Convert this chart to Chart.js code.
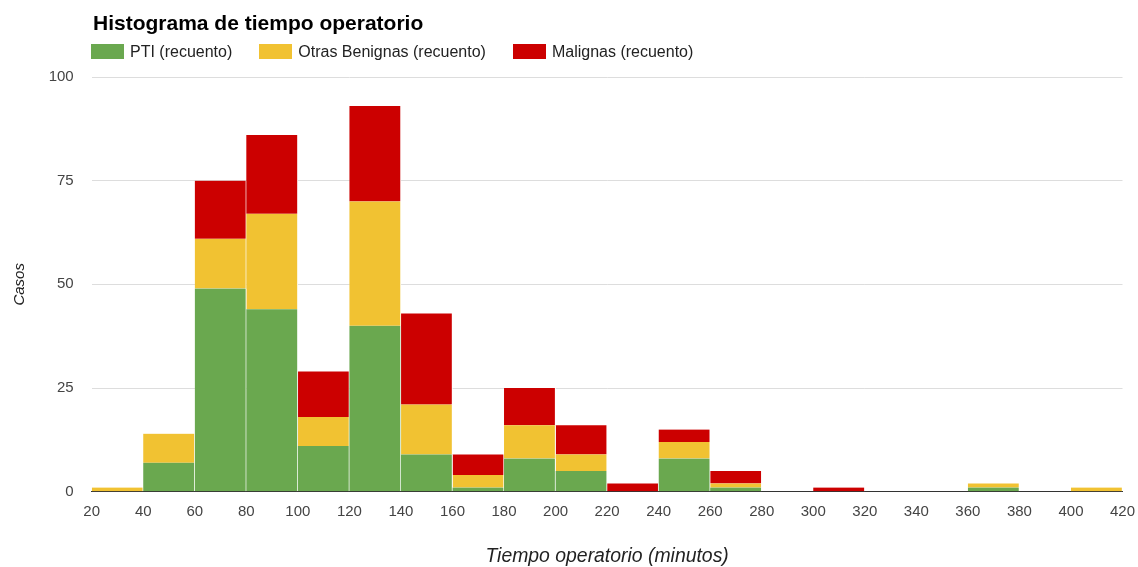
<!DOCTYPE html>
<html lang="es">
<head>
<meta charset="utf-8">
<title>Histograma de tiempo operatorio</title>
<script src="https://cdn.jsdelivr.net/npm/chart.js@4/dist/chart.umd.min.js"></script>
<style>
  html, body { margin: 0; padding: 0; background: #fff; }
  #wrap { position: relative; width: 1138px; height: 567px; font-family: "Liberation Sans", Arial, sans-serif; }
  #chart { position: absolute; left: 0; top: 0; }
  #title { position: absolute; left: 93px; top: 12px; font-size: 21px; line-height: 21px; font-weight: bold; color: #000; white-space: nowrap; }
  #legend { position: absolute; left: 91px; top: 44px; display: flex; align-items: center; height: 15px; white-space: nowrap; }
  .item { display: flex; align-items: center; margin-right: 27px; font-size: 16px; line-height: 15px; color: #222; }
  .swatch { width: 33px; height: 15px; margin-right: 6px; }
</style>
</head>
<body>
<div id="wrap">
  <canvas id="chart" width="1138" height="567"></canvas>
  <div id="title"></div>
  <div id="legend"></div>
</div>
<script>
// Lower edge of each 20-minute bin (minutes)
const binStarts = [20, 40, 60, 80, 100, 120, 140, 160, 180, 200, 220, 240, 260, 280, 300, 320, 340, 360, 380, 400];
const binSize = 20;

// Case counts per bin
const ptiCounts      = [0, 7, 49, 44, 11, 40, 9, 1, 8, 5, 0, 8, 1, 0, 0, 0, 0, 1, 0, 0];
const benignasCounts = [1, 7, 12, 23, 7, 30, 12, 3, 8, 4, 0, 4, 1, 0, 0, 0, 0, 1, 0, 1];
const malignasCounts = [0, 0, 14, 19, 11, 23, 22, 5, 9, 7, 2, 3, 3, 0, 1, 0, 0, 0, 0, 0];

const seriesNames  = ['PTI (recuento)', 'Otras Benignas (recuento)', 'Malignas (recuento)'];
const seriesColors = ['#6aa84f', '#f1c232', '#cc0000'];

// Axis ranges and ticks
const xMin = 20, xMax = 420, xStep = 20;
const yTicks = [0, 25, 50, 75, 100];

const chartTitle = 'Histograma de tiempo operatorio';
const xTitle = 'Tiempo operatorio (minutos)';
const yTitle = 'Casos';

const FONT = '"Liberation Sans", Arial, sans-serif';

function toPoints(counts) {
  return counts.map((v, i) => ({ x: binStarts[i] + binSize / 2, y: v }));
}

const seriesCounts = [ptiCounts, benignasCounts, malignasCounts];
const datasets = seriesCounts.map((counts, k) => ({
  label: seriesNames[k],
  data: toPoints(counts),
  backgroundColor: seriesColors[k],
  borderColor: '#ffffff',
  borderWidth: { top: 0, right: 1, bottom: 0, left: 0 },
  barPercentage: 1,
  categoryPercentage: 1
}));

// Title and legend
document.getElementById('title').textContent = chartTitle;
const legendEl = document.getElementById('legend');
seriesNames.forEach((name, k) => {
  const item = document.createElement('div');
  item.className = 'item';
  const sw = document.createElement('span');
  sw.className = 'swatch';
  sw.style.background = seriesColors[k];
  const tx = document.createElement('span');
  tx.textContent = name;
  item.appendChild(sw);
  item.appendChild(tx);
  legendEl.appendChild(item);
});

new Chart(document.getElementById('chart'), {
  type: 'bar',
  data: { datasets },
  options: {
    responsive: false,
    animation: false,
    layout: { padding: { top: 77, right: 15.5, bottom: 0, left: 0 } },
    plugins: {
      legend: { display: false },
      title: { display: false },
      tooltip: { enabled: false }
    },
    scales: {
      x: {
        type: 'linear',
        stacked: true,
        offset: false,
        min: xMin,
        max: xMax,
        z: 1,
        grid: { display: false, drawTicks: false },
        border: { display: true, color: '#333333', width: 1 },
        ticks: {
          stepSize: xStep,
          autoSkip: false,
          maxRotation: 0,
          padding: 11,
          color: '#444444',
          font: { family: FONT, size: 15 }
        },
        title: {
          display: true,
          text: xTitle,
          color: '#222222',
          font: { family: FONT, size: 19.4, style: 'italic', lineHeight: 1 },
          padding: { top: 0, bottom: 1 }
        },
        afterFit: (s) => { s.height = 75.3; s.paddingLeft = 0; s.paddingRight = 0; }
      },
      y: {
        stacked: true,
        min: yTicks[0],
        max: yTicks[yTicks.length - 1],
        grid: { color: '#dddddd', lineWidth: 1, drawTicks: false },
        border: { display: false },
        afterBuildTicks: (s) => { s.ticks = yTicks.map(v => ({ value: v })); },
        ticks: {
          padding: 18,
          color: '#444444',
          font: { family: FONT, size: 15 }
        },
        title: {
          display: true,
          text: yTitle,
          color: '#222222',
          font: { family: FONT, size: 15, style: 'italic', lineHeight: 1 },
          padding: { top: 12, bottom: 0 }
        },
        afterFit: (s) => { s.width = 91.7; }
      }
    }
  }
});
</script>
</body>
</html>
